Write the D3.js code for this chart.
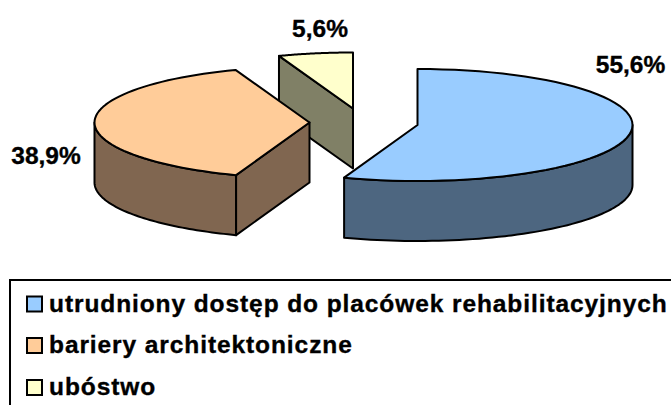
<!DOCTYPE html>
<html><head><meta charset="utf-8">
<script src="https://cdn.jsdelivr.net/npm/d3@7/dist/d3.min.js"></script>
<style>html,body{margin:0;padding:0;background:#fff;overflow:hidden}svg{display:block}text{font-family:"Liberation Sans",Arial,sans-serif;font-weight:bold;fill:#000;stroke:#000;stroke-width:0.35px}</style>
</head><body><svg width="671" height="405"></svg>
<script>
const categories = ["utrudniony dostęp do placówek rehabilitacyjnych","bariery architektoniczne","ubóstwo"];
const values = [55.6,38.9,5.6];
const labels = ["55,6%","38,9%","5,6%"];
const topColors = ["#99CCFF","#FFCC99","#FFFFCC"];
const sideColors = ["#4D6680","#806650","#808066"];
const centers = [[417.5,125],[309.5,122.5],[353,108.5]];
const labelPos = [[630.5,73],[46,164],[320,37]];
const legendY = [304,345.5,387.5];

const rx=215, ry=56, depth=60;
const svg=d3.select("svg");
const pie=d3.pie().sort(null).value(d=>d)(values);
const ang=d3.scaleLinear().domain([0,1]);
const line=d3.line();
const pt=(c,a,dy=0)=>[c[0]+rx*Math.sin(a),c[1]-ry*Math.cos(a)+dy];
const arcPts=(c,a0,a1,dy=0)=>d3.range(0,61).map(i=>pt(c,ang.range([a0,a1])(i/60),dy));
function style(s,fill){return s.attr("fill",fill).attr("stroke","#000").attr("stroke-width",2).attr("stroke-linejoin","round");}

[2,0,1].forEach(i=>{
  const p=pie[i],c=centers[i],g=svg.append("g");
  const a0=p.startAngle,a1=p.endAngle;
  const w0=Math.max(a0,Math.PI/2),w1=Math.min(a1,Math.PI*1.5);
  if(w1>w0){
    const t=arcPts(c,w0,w1),b=arcPts(c,w1,w0,depth);
    style(g.append("path"),sideColors[i]).attr("d",line(t.concat(b))+"Z");
  }
  if(i!==0){
    const e=pt(c,a0);
    style(g.append("path"),sideColors[i]).attr("d",line([c,e,[e[0],e[1]+depth],[c[0],c[1]+depth]])+"Z");
  }
  style(g.append("path"),topColors[i]).attr("d",line([c].concat(arcPts(c,a0,a1)))+"Z");
});

labels.forEach((t,i)=>svg.append("text").attr("x",labelPos[i][0]).attr("y",labelPos[i][1]).attr("text-anchor","middle").attr("font-size",24.5).text(t));

svg.append("rect").attr("x",10).attr("y",280).attr("width",680).attr("height",140).attr("fill","#fff").attr("stroke","#000").attr("stroke-width",2);
categories.forEach((t,i)=>{
  const y=legendY[i];
  svg.append("rect").attr("x",27).attr("y",y-7.5).attr("width",15).attr("height",15).attr("fill",topColors[i]).attr("stroke","#000").attr("stroke-width",2);
  svg.append("text").attr("x",49).attr("y",y+7.5).attr("font-size",24.5).attr("letter-spacing",0.91).text(t);
});
</script></body></html>
